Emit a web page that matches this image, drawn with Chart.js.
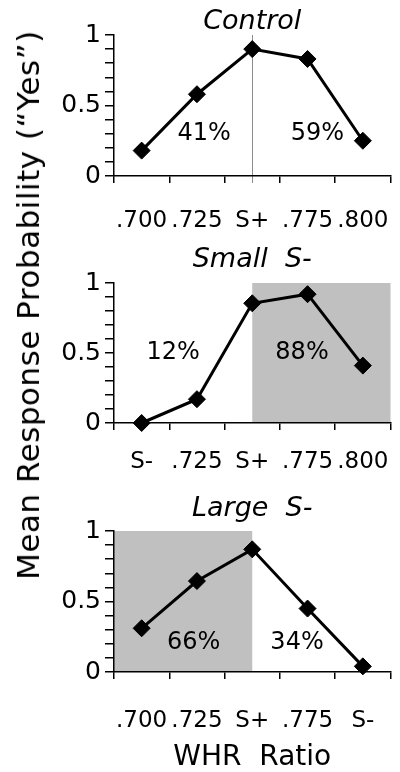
<!DOCTYPE html>
<html>
<head>
<meta charset="utf-8">
<script src="https://cdn.jsdelivr.net/npm/chart.js@4.4.1/dist/chart.umd.min.js"></script>
<style>
  html, body { margin: 0; padding: 0; background: #fff; }
  #page { position: relative; width: 400px; height: 772px; overflow: hidden; }
  .panel { position: absolute; left: 0; width: 400px; }
  #ytitle {
    position: absolute; left: 28px; top: 305px;
    transform: translate(-50%, -50%) rotate(-90deg);
    white-space: nowrap; font: 31px "DejaVu Sans"; letter-spacing: 0.5px; color: #000;
  }
</style>
</head>
<body>
<div id="page">
  <div class="panel" style="top:0;height:240px"><canvas id="controlChart"></canvas></div>
  <div class="panel" style="top:240px;height:250px"><canvas id="smallChart"></canvas></div>
  <div class="panel" style="top:490px;height:282px"><canvas id="largeChart"></canvas></div>
  <div id="ytitle">Mean Response Probability (“Yes”)</div>
</div>
<script>
// categories (x tick labels) per panel
const controlLabels = [".700", ".725", "S+", ".775", ".800"];
const smallLabels = ["S-", ".725", "S+", ".775", ".800"];
const largeLabels = [".700", ".725", "S+", ".775", "S-"];

// mean response probability
const controlValues = [0.18, 0.58, 0.90, 0.83, 0.25];
const smallValues = [0.00, 0.17, 0.855, 0.92, 0.41];
const largeValues = [0.31, 0.645, 0.87, 0.45, 0.04];

// percentages written inside each panel
const controlShares = ["41%", "59%"];
const smallShares = ["12%", "88%"];
const largeShares = ["66%", "34%"];

// y axis labels (ticks every 0.1, only these get text)
const yTickValues = [0, 0.5, 1];
const yTickText = ["0", "0.5", "1"];

const FONT = "DejaVu Sans";

// draws grey region / divider line behind the axes and the % labels
const panelDecor = {
  id: 'panelDecor',
  beforeDraw(chart, args, o) {
    const ctx = chart.ctx, x = chart.scales.x, y = chart.scales.y;
    ctx.save();
    if (o.shade) {
      const x0 = x.getPixelForValue(o.shade[0]);
      const x1 = x.getPixelForValue(o.shade[1]);
      const yt = y.getPixelForValue(1);
      const yb = y.getPixelForValue(0);
      ctx.fillStyle = '#c0c0c0';
      ctx.fillRect(x0, yt, x1 - x0, yb - yt);
    }
    if (o.divider !== undefined) {
      const px = Math.round(x.getPixelForValue(o.divider)) + 0.5;
      ctx.strokeStyle = '#8c8c8c';
      ctx.lineWidth = 1;
      ctx.beginPath();
      ctx.moveTo(px, y.getPixelForValue(1));
      ctx.lineTo(px, y.getPixelForValue(0) + 7);
      ctx.stroke();
    }
    ctx.restore();
  },
  afterDatasetsDraw(chart, args, o) {
    const ctx = chart.ctx, x = chart.scales.x, y = chart.scales.y;
    ctx.save();
    ctx.fillStyle = '#000';
    ctx.font = '24px "' + FONT + '"';
    ctx.textAlign = 'center';
    ctx.textBaseline = 'middle';
    (o.texts || []).forEach((t, i) => {
      ctx.fillText(t, x.getPixelForValue(o.textX[i]), y.getPixelForValue(o.textY));
    });
    ctx.restore();
  }
};

function makePanel(id, title, titlePad, labels, values, decor, xHeight, tickPad, xTitle) {
  return new Chart(document.getElementById(id), {
    type: 'line',
    data: {
      labels: labels,
      datasets: [{
        data: values,
        borderColor: '#000',
        borderWidth: 3,
        tension: 0,
        pointStyle: 'rectRot',
        pointRadius: 8.5,
        pointHoverRadius: 8.5,
        pointBackgroundColor: '#000',
        pointBorderColor: '#000',
        pointBorderWidth: 1,
        clip: false
      }]
    },
    options: {
      responsive: true,
      maintainAspectRatio: false,
      animation: false,
      events: [],
      layout: { padding: { left: 0, right: 8, top: 0, bottom: 0 } },
      plugins: {
        legend: { display: false },
        tooltip: { enabled: false },
        title: {
          display: true,
          text: title,
          fullSize: false,
          color: '#000',
          font: { family: FONT, size: 27, style: 'italic', weight: 'normal', lineHeight: 1 },
          padding: titlePad
        },
        panelDecor: decor
      },
      scales: {
        x: {
          offset: true,
          grid: { offset: true, drawOnChartArea: false, tickLength: 7, color: '#000', lineWidth: 1.5 },
          border: { color: '#000', width: 1.5 },
          ticks: { color: '#000', font: { family: FONT, size: 23 }, padding: tickPad, maxRotation: 0, autoSkip: false },
          title: xTitle ? {
            display: true, text: xTitle, color: '#000',
            font: { family: FONT, size: 28, lineHeight: 1 }, padding: 0
          } : { display: false },
          afterFit: s => { s.height = xHeight; s.paddingLeft = 0; s.paddingRight = 0; }
        },
        y: {
          min: 0,
          max: 1,
          grid: { drawOnChartArea: false, tickLength: 9, color: '#000', lineWidth: 1.5 },
          border: { color: '#000', width: 1.5 },
          ticks: {
            stepSize: 0.1,
            autoSkip: false,
            color: '#000',
            padding: 4,
            font: { family: FONT, size: 25 },
            callback: v => {
              const k = yTickValues.findIndex(t => Math.abs(t - v) < 1e-6);
              return k >= 0 ? yTickText[k] : '';
            }
          },
          afterFit: s => { s.width = 114; s.paddingTop = 0; s.paddingBottom = 0; }
        }
      }
    },
    plugins: [panelDecor]
  });
}

makePanel('controlChart', 'Control', { top: 8, bottom: 0 }, controlLabels, controlValues,
  { divider: 2, texts: controlShares, textX: [1.13, 3.18], textY: 0.30 }, 64, 24.5);

makePanel('smallChart', 'Small  S-', { top: 6.5, bottom: 9.5 }, smallLabels, smallValues,
  { shade: [2, 4.5], texts: smallShares, textX: [0.57, 2.9], textY: 0.50 }, 67, 18.5);

makePanel('largeChart', 'Large  S-', { top: 5, bottom: 9 }, largeLabels, largeValues,
  { shade: [-0.5, 2], texts: largeShares, textX: [0.94, 2.81], textY: 0.21 }, 100, 28.5, 'WHR  Ratio');
</script>
</body>
</html>
